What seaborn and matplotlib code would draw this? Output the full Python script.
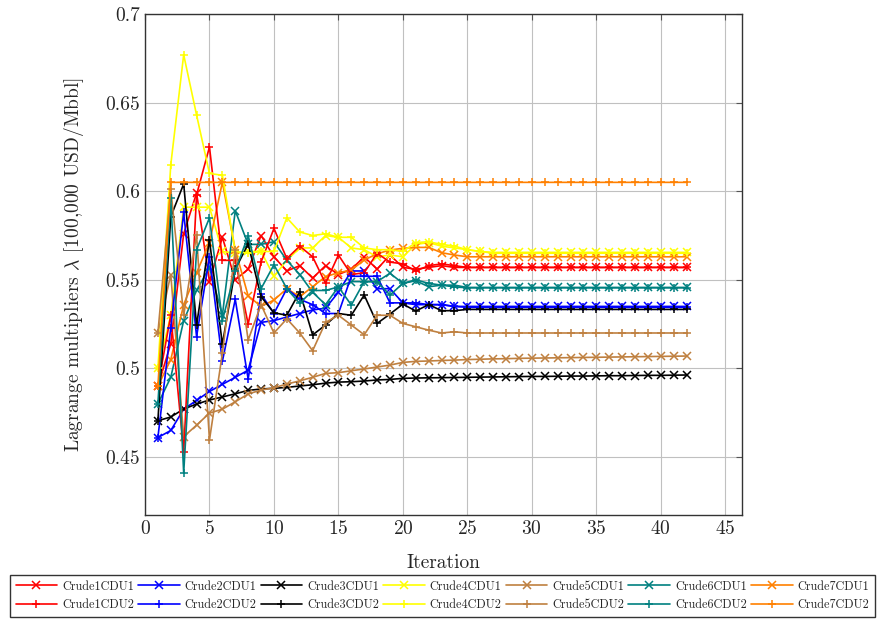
import matplotlib
matplotlib.use("Agg")
import matplotlib.pyplot as plt
import seaborn as sns
import numpy as np
import pandas as pd

iterations = list(range(1, 43))

crude1_cdu1 = [0.490, 0.514, 0.576, 0.599, 0.549, 0.574, 0.550, 0.556, 0.575, 0.563,
               0.555, 0.558, 0.551, 0.558, 0.553, 0.556, 0.563, 0.556, 0.564, 0.557,
               0.556, 0.557, 0.558, 0.557] + [0.557] * 18
crude1_cdu2 = [0.490, 0.530, 0.453, 0.598, 0.625, 0.561, 0.561, 0.525, 0.560, 0.579,
               0.562, 0.569, 0.563, 0.548, 0.564, 0.553, 0.554, 0.565, 0.560, 0.559,
               0.555, 0.558, 0.559, 0.558] + [0.557] * 18
crude2_cdu1 = [0.461, 0.465, 0.477, 0.482, 0.487, 0.491, 0.495, 0.499, 0.526, 0.527,
               0.529, 0.531, 0.533, 0.534, 0.543, 0.555, 0.555, 0.545, 0.545, 0.537,
               0.536, 0.536, 0.536, 0.535] + [0.535] * 18
crude2_cdu2 = [0.461, 0.523, 0.588, 0.518, 0.563, 0.504, 0.539, 0.494, 0.542, 0.531,
               0.545, 0.539, 0.536, 0.531, 0.531, 0.552, 0.552, 0.552, 0.537, 0.537,
               0.537, 0.536, 0.536, 0.535] + [0.5345] * 18
crude3_cdu1 = [0.4705, 0.4726, 0.4771, 0.4799, 0.4822, 0.4839, 0.4857, 0.4876, 0.4884, 0.4888,
               0.4893, 0.4901, 0.4908, 0.4917, 0.4923, 0.4925, 0.4929, 0.4935, 0.4938, 0.4944,
               0.4946, 0.4947, 0.4948, 0.4949, 0.4950, 0.4951, 0.4952, 0.4953, 0.4954, 0.4955,
               0.4955, 0.4956, 0.4957, 0.4957, 0.4958, 0.4959, 0.4959, 0.4960, 0.4961, 0.4961,
               0.4962, 0.4963]
crude3_cdu2 = [0.4705, 0.5856, 0.6041, 0.5245, 0.5725, 0.5136, 0.556, 0.5702, 0.5405, 0.5314,
               0.530, 0.5433, 0.5189, 0.5245, 0.531, 0.530, 0.5414, 0.5254, 0.5307, 0.5363,
               0.5324, 0.536, 0.5326, 0.5326] + [0.5333] * 18
crude4_cdu1 = [0.500, 0.530, 0.591, 0.591, 0.591, 0.566, 0.565, 0.566, 0.566, 0.552,
               0.561, 0.568, 0.568, 0.575, 0.574, 0.568, 0.567, 0.563, 0.564, 0.563,
               0.570, 0.571, 0.569, 0.568, 0.567, 0.566, 0.5655] + [0.5655] * 15
crude4_cdu2 = [0.500, 0.615, 0.677, 0.643, 0.610, 0.609, 0.566, 0.565, 0.566, 0.566,
               0.585, 0.577, 0.575, 0.576, 0.574, 0.574, 0.568, 0.567, 0.567, 0.566,
               0.571, 0.5715, 0.570, 0.569, 0.567, 0.566] + [0.565] * 16
crude5_cdu1 = [0.520, 0.553, 0.4615, 0.468, 0.4748, 0.477, 0.4812, 0.4856, 0.4878, 0.4891,
               0.4912, 0.493, 0.495, 0.4972, 0.4976, 0.4987, 0.4997, 0.5008, 0.5019, 0.5034,
               0.504, 0.5042, 0.5045, 0.5047, 0.5050, 0.5052, 0.5054, 0.5055, 0.5057, 0.5058,
               0.5059, 0.5060, 0.5061, 0.5062, 0.5063, 0.5064, 0.5065, 0.5066, 0.5067, 0.5068,
               0.5069, 0.5070]
crude5_cdu2 = [0.520, 0.601, 0.530, 0.5753, 0.4596, 0.5085, 0.567, 0.516, 0.536, 0.520,
               0.528, 0.520, 0.510, 0.526, 0.530, 0.5245, 0.519, 0.530, 0.530, 0.5254,
               0.5235, 0.5216, 0.520, 0.5207] + [0.520] * 18
crude6_cdu1 = [0.480, 0.495, 0.527, 0.544, 0.557, 0.530, 0.589, 0.570, 0.570, 0.5715,
               0.561, 0.553, 0.543, 0.536, 0.546, 0.549, 0.549, 0.549, 0.5537, 0.548,
               0.5495, 0.5461, 0.547, 0.547] + [0.5457] * 18
crude6_cdu2 = [0.480, 0.596, 0.441, 0.567, 0.585, 0.527, 0.555, 0.575, 0.545, 0.5585,
               0.545, 0.5367, 0.544, 0.544, 0.546, 0.5358, 0.549, 0.549, 0.5414, 0.548,
               0.550, 0.548, 0.547, 0.546] + [0.5455] * 18
crude7_cdu1 = [0.490, 0.505, 0.536, 0.554, 0.571, 0.605, 0.567, 0.541, 0.535, 0.5386,
               0.545, 0.5405, 0.5461, 0.5518, 0.554, 0.5555, 0.5612, 0.5647, 0.5668, 0.5678,
               0.5683, 0.5683, 0.5653, 0.564] + [0.563] * 18
crude7_cdu2 = [0.490] + [0.605] * 41

crudes = ["Crude1", "Crude2", "Crude3", "Crude4", "Crude5", "Crude6", "Crude7"]
colors = ["#ff0000", "#0000ff", "#000000", "#ffff00", "#bf8040", "#008080", "#ff8000"]
cdu1_series = [crude1_cdu1, crude2_cdu1, crude3_cdu1, crude4_cdu1, crude5_cdu1, crude6_cdu1, crude7_cdu1]
cdu2_series = [crude1_cdu2, crude2_cdu2, crude3_cdu2, crude4_cdu2, crude5_cdu2, crude6_cdu2, crude7_cdu2]

sns.set_style("whitegrid")
plt.rcParams["font.family"] = ["serif"]
plt.rcParams["font.serif"] = ["cmr10", "DejaVu Serif"]
plt.rcParams["mathtext.fontset"] = "cm"
plt.rcParams["axes.formatter.use_mathtext"] = True

fig = plt.figure(figsize=(8.78, 6.2), dpi=100)
ax = fig.add_axes([145 / 878, 1 - 515 / 620, (742 - 145) / 878, (515 - 14) / 620])

handles = {}
for cdu, series_list, mk in [("CDU1", cdu1_series, "x"), ("CDU2", cdu2_series, "+")]:
    for crude, col, vals in zip(crudes, colors, series_list):
        df = pd.DataFrame({"Iteration": iterations, "value": vals})
        n_before = len(ax.lines)
        sns.lineplot(data=df, x="Iteration", y="value", ax=ax, color=col, marker=mk,
                     markersize=6, markeredgewidth=1.1, markeredgecolor=col,
                     linewidth=1.2, estimator=None, sort=False, legend=False)
        handles[crude + cdu] = ax.lines[n_before]

ax.set_xlim(0, 46.3)
ax.set_ylim(0.4173, 0.7)
ax.set_xticks(range(0, 46, 5))
ax.set_yticks([0.45, 0.5, 0.55, 0.6, 0.65, 0.7])
ax.set_yticklabels(["0.45", "0.5", "0.55", "0.6", "0.65", "0.7"])
ax.grid(True, color="#c0c0c0", linewidth=0.8)
for s in ax.spines.values():
    s.set_color("#333333")
    s.set_linewidth(1.0)
ax.tick_params(direction="in", top=True, right=True, labelsize=14, length=4, color="#555555")
ax.set_xlabel("Iteration", fontsize=14, labelpad=12)
ax.set_ylabel(r"Lagrange multipliers $\lambda$ [100,000 USD/Mbbl]", fontsize=14, labelpad=14)

order = []
labels = []
for crude in crudes:
    for cdu in ["CDU1", "CDU2"]:
        order.append(handles[crude + cdu])
        labels.append(crude + cdu)
leg = fig.legend(order, labels, ncol=7, loc="upper left",
                 bbox_to_anchor=(10 / 878, 1 - 575 / 620), fontsize=8.8,
                 frameon=True, fancybox=False, edgecolor="black",
                 handlelength=3.4, handletextpad=0.4, columnspacing=0.35,
                 borderpad=0.45, labelspacing=0.55, borderaxespad=0)
leg.get_frame().set_linewidth(1.0)

fig.savefig("out.png", dpi=100)
